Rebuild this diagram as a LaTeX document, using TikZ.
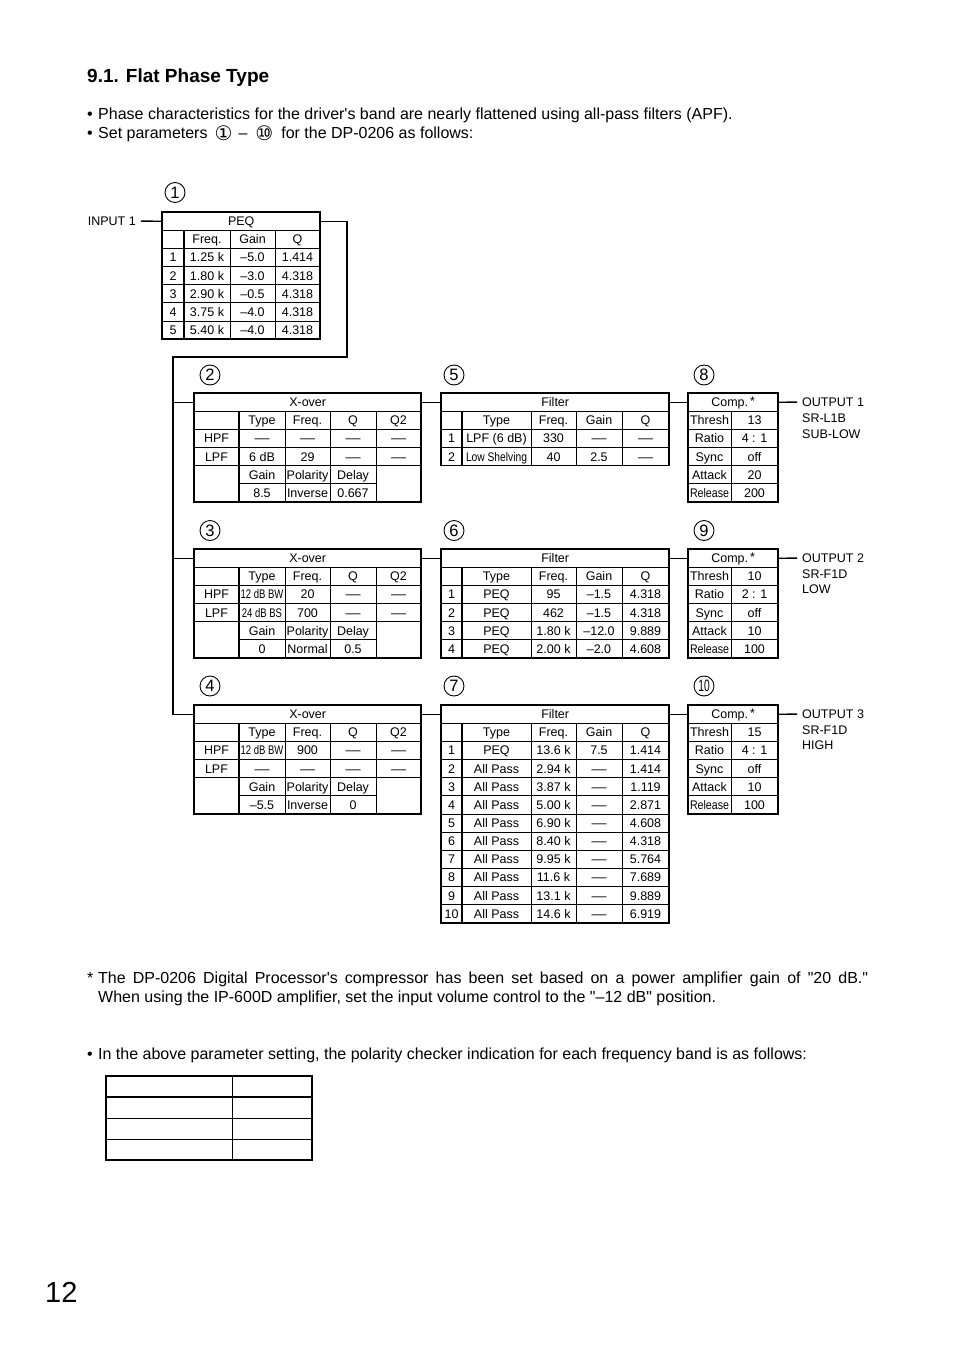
\documentclass[tikz,border=0pt]{standalone}
\usepackage{graphicx}
\usepackage{fontspec}
\setmainfont{Liberation Sans}
\newfontfamily\dejavu{DejaVu Sans}
\newcounter{cc}
\def\rh{18.15}
\newcommand\tabfont{\fontsize{12.5}{14}\selectfont}
\newcommand\bodyfont{\fontsize{16}{19}\selectfont}
\newcommand\circfont{\fontsize{16.5}{18}\selectfont}
\newcommand\sm[1]{\scalebox{0.76}[1]{#1}}
\newcommand\smr[1]{\scalebox{0.85}[1]{#1}}
\newcommand\dd{\scalebox{1.2}[1]{—}}
\newcommand\qq{\textquotedbl}
\newcommand\cirg[1]{{\fontsize{20}{20}\selectfont\dejavu\raisebox{-1.5pt}{#1}}}
\newcommand\cellat[3]{\stepcounter{cc}\edef\cn{t\number\value{cc}}\node[cell] (\cn) at ({#1},{#2}) {#3};}
\newcommand\trow[3]{\foreach \xx/\tx in {#3}{\cellat{\xx}{#1+(#2+0.5)*\rh}{\tx}}}
\newcommand\hl[4][thinl]{\draw[#1] ({#2},{#4}) -- ({#3},{#4});}
\newcommand\vl[4][thinl]{\draw[#1] ({#2},{#3}) -- ({#2},{#4});}
\tikzset{
  cell/.style={inner sep=0pt, text height=9pt, text depth=0pt, font=\tabfont},
  hdr/.style={inner sep=0pt, minimum height=\rh pt, text height=9pt, text depth=0pt, font=\tabfont},
  lbl/.style={inner sep=0pt, text height=9pt, text depth=0pt, font=\tabfont},
  outerl/.style={line width=1.5pt},
  thickl/.style={line width=1.3pt},
  thinl/.style={line width=0.7pt},
  conn/.style={line width=1.4pt},
  circnum/.style={circle, draw, line width=0.9pt, minimum size=20pt, inner sep=0pt, font=\circfont},
  txt/.style={anchor=base west, inner sep=0pt, font=\bodyfont},
}
\newcommand\xover[2]{%
  \hl[thickl]{194}{421}{#2+\rh}
  \hl{194}{421}{#2+2*\rh}
  \hl{194}{421}{#2+3*\rh}
  \hl[thickl]{194}{421}{#2+4*\rh}
  \hl{239}{376}{#2+5*\rh}
  \vl[thickl]{239}{#2+\rh}{#2+6*\rh}
  \vl{285}{#2+\rh}{#2+6*\rh}
  \vl{330}{#2+\rh}{#2+6*\rh}
  \vl{376}{#2+\rh}{#2+6*\rh}
  \draw[outerl] (194,{#2}) rectangle (421,{#2+6*\rh});
  \node[hdr, minimum width=227pt, anchor=north west] (#1) at (194,{#2}) {X-over};
  \trow{#2}{1}{262/Type, 307.5/Freq., 353/Q, 398.5/Q2}
  \trow{#2}{2}{216.5/HPF}
  \trow{#2}{3}{216.5/LPF}
  \trow{#2}{4}{262/Gain, 307.5/Polarity, 353/Delay}
}
\newcommand\filt[4]{%
  \hl[thickl]{441}{669}{#2+\rh}
  \foreach \k in {2,...,#3} {\hl{441}{669}{#2+\k*\rh}}
  \vl[thickl]{462}{#2+\rh}{#2+#4*\rh}
  \vl{531}{#2+\rh}{#2+#4*\rh}
  \vl{576}{#2+\rh}{#2+#4*\rh}
  \vl{622}{#2+\rh}{#2+#4*\rh}
  \draw[outerl] (441,{#2}) rectangle (669,{#2+#4*\rh});
  \node[hdr, minimum width=228pt, anchor=north west] (#1) at (441,{#2}) {Filter};
  \trow{#2}{1}{496.5/Type, 553.5/Freq., 599/Gain, 645.5/Q}
}
\newcommand\comp[2]{%
  \hl[thickl]{688}{778}{#2+\rh}
  \foreach \k in {2,...,5} {\hl{688}{778}{#2+\k*\rh}}
  \vl{731}{#2+\rh}{#2+6*\rh}
  \draw[outerl] (688,{#2}) rectangle (778,{#2+6*\rh});
  \node[hdr, minimum width=90pt, anchor=north west] (#1) at (688,{#2}) {Comp.\,\raisebox{1pt}{*}};
  \trow{#2}{1}{709.5/Thresh}
  \trow{#2}{2}{709.5/Ratio}
  \trow{#2}{3}{709.5/Sync}
  \trow{#2}{4}{709.5/Attack}
  \trow{#2}{5}{709.5/\smr{Release}}
}
\begin{document}
\begin{tikzpicture}[x=1pt,y=-1pt]
\fill[white] (0,0) rectangle (954,1351);
\useasboundingbox (0,0) rectangle (954,1351);

% ---------- texts ----------
\node[txt, font=\fontsize{19}{22}\selectfont\bfseries] (title) at (87,82.8) {9.1. Flat Phase Type};
\node[txt] (b1) at (87,119.7) {\makebox[11pt][l]{\textbullet}Phase characteristics for the driver\textquotesingle s band are nearly flattened using all-pass filters (APF).};
\node[txt] (b2) at (87,138.7) {\makebox[11pt][l]{\textbullet}Set parameters\hspace{7pt}\cirg{①}\hspace{6pt}–\hspace{8pt}\cirg{⑩}\hspace{8pt}for the DP-0206 as follows:};
\node[txt] (fn1) at (87,983.7) {\makebox[11pt][l]{*}\makebox[770pt][s]{The DP-0206 Digital Processor\textquotesingle s compressor has been set based on a power amplifier gain of \qq 20 dB.\qq}};
\node[txt] (fn2) at (98,1002.7) {When using the IP-600D amplifier, set the input volume control to the \qq –12 dB\qq\ position.};
\node[txt] (b3) at (87,1059.7) {\makebox[11pt][l]{\textbullet}In the above parameter setting, the polarity checker indication for each frequency band is as follows:};
\node[txt, font=\fontsize{29}{32}\selectfont] (pg) at (45,1302.4) {12};

% ---------- circled numbers ----------
\node[circnum] (n1) at (175,192.5) {1};
\node[circnum] (n2) at (210,375) {2};
\node[circnum] (n3) at (210,530.5) {3};
\node[circnum] (n4) at (210,686) {4};
\node[circnum] (n5) at (454,375) {5};
\node[circnum] (n6) at (454,530.5) {6};
\node[circnum] (n7) at (454,686) {7};
\node[circnum] (n8) at (704,375) {8};
\node[circnum] (n9) at (704,530.5) {9};
\node[circnum] (n10) at (704,686) {\scalebox{0.62}[1]{10}};

% ---------- PEQ (1) ----------
\hl[thickl]{162}{320}{212+\rh}
\foreach \k in {2,...,6} {\hl{162}{320}{212+\k*\rh}}
\vl[thickl]{184}{212+\rh}{212+7*\rh}
\vl{230}{212+\rh}{212+7*\rh}
\vl{275}{212+\rh}{212+7*\rh}
\draw[outerl] (162,212) rectangle (320,{212+7*\rh});
\node[hdr, minimum width=158pt, anchor=north west] (peqh) at (162,212) {PEQ};
\trow{212}{1}{207/Freq., 252.5/Gain, 297.5/Q}
\trow{212}{2}{173/1, 207/1.25 k, 252.5/–5.0, 297.5/1.414}
\trow{212}{3}{173/2, 207/1.80 k, 252.5/–3.0, 297.5/4.318}
\trow{212}{4}{173/3, 207/2.90 k, 252.5/–0.5, 297.5/4.318}
\trow{212}{5}{173/4, 207/3.75 k, 252.5/–4.0, 297.5/4.318}
\trow{212}{6}{173/5, 207/5.40 k, 252.5/–4.0, 297.5/4.318}

% ---------- X-over tables ----------
\xover{x2h}{393}
\trow{393}{2}{262/\dd, 307.5/\dd, 353/\dd, 398.5/\dd}
\trow{393}{3}{262/6 dB, 307.5/29, 353/\dd, 398.5/\dd}
\trow{393}{5}{262/8.5, 307.5/Inverse, 353/0.667}

\xover{x3h}{549}
\trow{549}{2}{262/\sm{12 dB BW}, 307.5/20, 353/\dd, 398.5/\dd}
\trow{549}{3}{262/\sm{24 dB BS}, 307.5/700, 353/\dd, 398.5/\dd}
\trow{549}{5}{262/0, 307.5/Normal, 353/0.5}

\xover{x4h}{705}
\trow{705}{2}{262/\sm{12 dB BW}, 307.5/900, 353/\dd, 398.5/\dd}
\trow{705}{3}{262/\dd, 307.5/\dd, 353/\dd, 398.5/\dd}
\trow{705}{5}{262/–5.5, 307.5/Inverse, 353/0}

% ---------- Filter tables ----------
\filt{f5h}{393}{3}{4}
\trow{393}{2}{451.5/1, 496.5/LPF (6 dB), 553.5/330, 599/\dd, 645.5/\dd}
\trow{393}{3}{451.5/2, 496.5/\scalebox{0.82}[1]{Low Shelving}, 553.5/40, 599/2.5, 645.5/\dd}

\filt{f6h}{549}{5}{6}
\trow{549}{2}{451.5/1, 496.5/PEQ, 553.5/95, 599/–1.5, 645.5/4.318}
\trow{549}{3}{451.5/2, 496.5/PEQ, 553.5/462, 599/–1.5, 645.5/4.318}
\trow{549}{4}{451.5/3, 496.5/PEQ, 553.5/1.80 k, 599/–12.0, 645.5/9.889}
\trow{549}{5}{451.5/4, 496.5/PEQ, 553.5/2.00 k, 599/–2.0, 645.5/4.608}

\filt{f7h}{705}{11}{12}
\trow{705}{2}{451.5/1, 496.5/PEQ, 553.5/13.6 k, 599/7.5, 645.5/1.414}
\trow{705}{3}{451.5/2, 496.5/All Pass, 553.5/2.94 k, 599/\dd, 645.5/1.414}
\trow{705}{4}{451.5/3, 496.5/All Pass, 553.5/3.87 k, 599/\dd, 645.5/1.119}
\trow{705}{5}{451.5/4, 496.5/All Pass, 553.5/5.00 k, 599/\dd, 645.5/2.871}
\trow{705}{6}{451.5/5, 496.5/All Pass, 553.5/6.90 k, 599/\dd, 645.5/4.608}
\trow{705}{7}{451.5/6, 496.5/All Pass, 553.5/8.40 k, 599/\dd, 645.5/4.318}
\trow{705}{8}{451.5/7, 496.5/All Pass, 553.5/9.95 k, 599/\dd, 645.5/5.764}
\trow{705}{9}{451.5/8, 496.5/All Pass, 553.5/11.6 k, 599/\dd, 645.5/7.689}
\trow{705}{10}{451.5/9, 496.5/All Pass, 553.5/13.1 k, 599/\dd, 645.5/9.889}
\trow{705}{11}{451.5/10, 496.5/All Pass, 553.5/14.6 k, 599/\dd, 645.5/6.919}

% ---------- Comp tables ----------
\comp{c8h}{393}
\trow{393}{1}{754.5/13}
\trow{393}{2}{754.5/4 : 1}
\trow{393}{3}{754.5/off}
\trow{393}{4}{754.5/20}
\trow{393}{5}{754.5/200}

\comp{c9h}{549}
\trow{549}{1}{754.5/10}
\trow{549}{2}{754.5/2 : 1}
\trow{549}{3}{754.5/off}
\trow{549}{4}{754.5/10}
\trow{549}{5}{754.5/100}

\comp{c10h}{705}
\trow{705}{1}{754.5/15}
\trow{705}{2}{754.5/4 : 1}
\trow{705}{3}{754.5/off}
\trow{705}{4}{754.5/10}
\trow{705}{5}{754.5/100}

% ---------- input / output labels ----------
\node[lbl, anchor=east, inner xsep=5pt] (in1) at (141,221.1) {INPUT 1};
\node[lbl, anchor=west, inner xsep=5pt] (o1) at (797,402.1) {OUTPUT 1};
\node[lbl, anchor=west] (o1b) at (802,418) {SR-L1B};
\node[lbl, anchor=west] (o1c) at (802,434) {SUB-LOW};
\node[lbl, anchor=west, inner xsep=5pt] (o2) at (797,558.1) {OUTPUT 2};
\node[lbl, anchor=west] (o2b) at (802,573.5) {SR-F1D};
\node[lbl, anchor=west] (o2c) at (802,589) {LOW};
\node[lbl, anchor=west, inner xsep=5pt] (o3) at (797,714.1) {OUTPUT 3};
\node[lbl, anchor=west] (o3b) at (802,729.5) {SR-F1D};
\node[lbl, anchor=west] (o3c) at (802,745) {HIGH};

% ---------- connectors ----------
\coordinate (busr) at (347,357);
\coordinate (busl) at (173,357);
\draw[conn] (in1.east) -- (peqh.west);
\draw[conn] (peqh.east) -| (busr) -- (busl) |- (x4h.west);
\draw[conn] (busl |- x2h.west) -- (x2h.west);
\draw[conn] (busl |- x3h.west) -- (x3h.west);
\draw[conn] (x2h.east) -- (f5h.west);
\draw[conn] (x3h.east) -- (f6h.west);
\draw[conn] (x4h.east) -- (f7h.west);
\draw[conn] (f5h.east) -- (c8h.west);
\draw[conn] (f6h.east) -- (c9h.west);
\draw[conn] (f7h.east) -- (c10h.west);
\draw[conn] (c8h.east) -- (o1.west);
\draw[conn] (c9h.east) -- (o2.west);
\draw[conn] (c10h.east) -- (o3.west);

% ---------- polarity table ----------
\vl{232}{1076}{1160}
\hl[thickl]{106}{312}{1097}
\hl{106}{312}{1118}
\hl{106}{312}{1139}
\draw[outerl] (106,1076) rectangle (312,1160);
\end{tikzpicture}
\end{document}
